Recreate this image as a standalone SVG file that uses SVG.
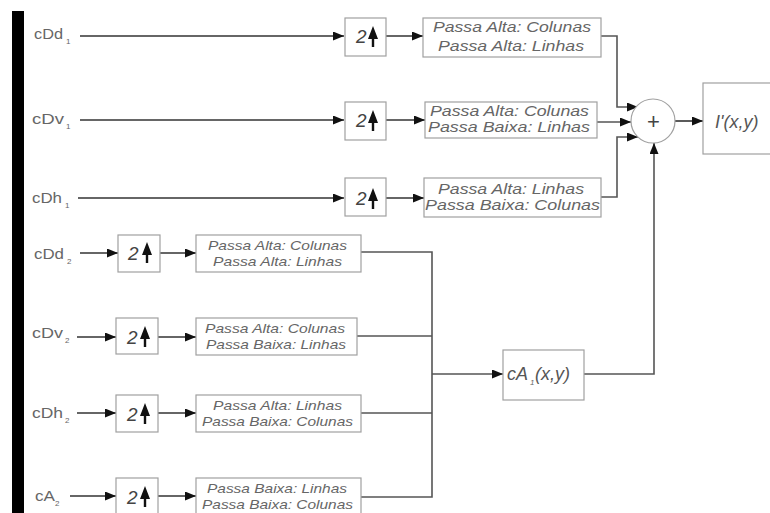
<svg xmlns="http://www.w3.org/2000/svg" xmlns:xlink="http://www.w3.org/1999/xlink" width="770" height="513" viewBox="0 0 770 513">
<style>
.box{fill:#fff;stroke:#a0a0a0;stroke-width:1.2}
.ln{fill:none;stroke:#333;stroke-width:1.6}
.ln2{fill:none;stroke:#555;stroke-width:1.6}
.lbl{font-family:"Liberation Sans",Arial,sans-serif;font-size:14px;fill:#666}
.sub{font-family:"Liberation Sans",Arial,sans-serif;font-size:8px;fill:#666}
.flt{font-family:"Liberation Sans",Arial,sans-serif;font-style:italic;font-size:14px;fill:#666}
.flt2{font-family:"Liberation Sans",Arial,sans-serif;font-style:italic;font-size:13px;fill:#666}
.two{font-family:"Liberation Sans",Arial,sans-serif;font-style:italic;font-size:19px;fill:#444}
.big{font-family:"Liberation Sans",Arial,sans-serif;font-style:italic;font-size:18px;fill:#555}
</style>
<defs>
<marker id="ah" markerUnits="userSpaceOnUse" markerWidth="12" markerHeight="10" refX="11" refY="4.5" orient="auto">
<path d="M0,0 L11,4.5 L0,9 z" fill="#111"/>
</marker>
<path id="up" d="M0,-10 L5,3 L1.2,3 L1.2,11 L-1.2,11 L-1.2,3 L-5,3 z" fill="#111"/>
</defs>
<rect x="12" y="11" width="12" height="502" fill="#000"/>
<g id="connectors">
<line class="ln" x1="80" y1="36" x2="344" y2="36" marker-end="url(#ah)"/>
<line class="ln" x1="80" y1="120" x2="344" y2="120" marker-end="url(#ah)"/>
<line class="ln" x1="78" y1="198" x2="344" y2="198" marker-end="url(#ah)"/>
<line class="ln" x1="386" y1="36" x2="423" y2="36" marker-end="url(#ah)"/>
<line class="ln" x1="386" y1="120" x2="425" y2="120" marker-end="url(#ah)"/>
<line class="ln" x1="386" y1="198" x2="424" y2="198" marker-end="url(#ah)"/>
<polyline class="ln2" points="601,36 617,36 617,107 638,107" marker-end="url(#ah)"/>
<line class="ln2" x1="597" y1="122" x2="631" y2="122" marker-end="url(#ah)"/>
<polyline class="ln2" points="601,197 617,197 617,137 638,137" marker-end="url(#ah)"/>
<line class="ln" x1="675" y1="121" x2="703" y2="121" marker-end="url(#ah)"/>
<polyline class="ln2" points="584,374 654,374 654,143" marker-end="url(#ah)"/>
<line class="ln" x1="80" y1="253" x2="118" y2="253" marker-end="url(#ah)"/>
<line class="ln" x1="77" y1="337" x2="116" y2="337" marker-end="url(#ah)"/>
<line class="ln" x1="77" y1="413" x2="116" y2="413" marker-end="url(#ah)"/>
<line class="ln" x1="70" y1="496" x2="116" y2="496" marker-end="url(#ah)"/>
<line class="ln" x1="160" y1="253" x2="196" y2="253" marker-end="url(#ah)"/>
<line class="ln" x1="158" y1="337" x2="196" y2="337" marker-end="url(#ah)"/>
<line class="ln" x1="158" y1="413" x2="196" y2="413" marker-end="url(#ah)"/>
<line class="ln" x1="158" y1="496" x2="196" y2="496" marker-end="url(#ah)"/>
<polyline class="ln2" points="361,252 432,252 432,497 361,497"/>
<line class="ln2" x1="357" y1="336" x2="432" y2="336"/>
<line class="ln2" x1="361" y1="413" x2="432" y2="413"/>
<line class="ln2" x1="432" y1="374" x2="503" y2="374" marker-end="url(#ah)"/>
</g>
<g id="lbl-cDd1"><text class="lbl" x="34" y="39" textLength="29" lengthAdjust="spacingAndGlyphs">cDd</text><text class="sub" x="66" y="44">1</text></g>
<g id="lbl-cDv1"><text class="lbl" x="32" y="124" textLength="32" lengthAdjust="spacingAndGlyphs">cDv</text><text class="sub" x="66" y="129">1</text></g>
<g id="lbl-cDh1"><text class="lbl" x="32" y="203" textLength="30" lengthAdjust="spacingAndGlyphs">cDh</text><text class="sub" x="65" y="208">1</text></g>
<g id="lbl-cDd2"><text class="lbl" x="34" y="259" textLength="30" lengthAdjust="spacingAndGlyphs">cDd</text><text class="sub" x="67" y="264">2</text></g>
<g id="lbl-cDv2"><text class="lbl" x="32" y="338" textLength="31" lengthAdjust="spacingAndGlyphs">cDv</text><text class="sub" x="65" y="343">2</text></g>
<g id="lbl-cDh2"><text class="lbl" x="32" y="418" textLength="31" lengthAdjust="spacingAndGlyphs">cDh</text><text class="sub" x="65" y="423">2</text></g>
<g id="lbl-cA2"><text class="lbl" x="35" y="501" textLength="20" lengthAdjust="spacingAndGlyphs">cA</text><text class="sub" x="55" y="506">2</text></g>
<g id="up1"><rect class="box" x="345" y="18" width="41" height="38"/><text class="two" x="356" y="43">2</text><use xlink:href="#up" x="373" y="36"/></g>
<g id="up2"><rect class="box" x="345" y="102" width="41" height="38"/><text class="two" x="356" y="127">2</text><use xlink:href="#up" x="373" y="120"/></g>
<g id="up3"><rect class="box" x="345" y="178" width="41" height="38"/><text class="two" x="356" y="205">2</text><use xlink:href="#up" x="373" y="198"/></g>
<g id="up4"><rect class="box" x="118" y="235" width="42" height="37"/><text class="two" x="128" y="260">2</text><use xlink:href="#up" x="147" y="252"/></g>
<g id="up5"><rect class="box" x="116" y="318" width="42" height="36"/><text class="two" x="127" y="344">2</text><use xlink:href="#up" x="145" y="336"/></g>
<g id="up6"><rect class="box" x="116" y="395" width="42" height="37"/><text class="two" x="127" y="421">2</text><use xlink:href="#up" x="145" y="413"/></g>
<g id="up7"><rect class="box" x="116" y="478" width="42" height="40"/><text class="two" x="127" y="504">2</text><use xlink:href="#up" x="145" y="496"/></g>
<g id="f1"><rect class="box" x="423" y="18" width="178" height="39"/>
<text class="flt" x="433" y="32" textLength="158" lengthAdjust="spacingAndGlyphs">Passa Alta: Colunas</text>
<text class="flt" x="438" y="51" textLength="146" lengthAdjust="spacingAndGlyphs">Passa Alta: Linhas</text></g>
<g id="f2"><rect class="box" x="425" y="102" width="172" height="36"/>
<text class="flt" x="430" y="116" textLength="159" lengthAdjust="spacingAndGlyphs">Passa Alta: Colunas</text>
<text class="flt" x="428" y="132" textLength="162" lengthAdjust="spacingAndGlyphs">Passa Baixa: Linhas</text></g>
<g id="f3"><rect class="box" x="424" y="178" width="177" height="39"/>
<text class="flt" x="438" y="194" textLength="146" lengthAdjust="spacingAndGlyphs">Passa Alta: Linhas</text>
<text class="flt" x="425" y="210" textLength="175" lengthAdjust="spacingAndGlyphs">Passa Baixa: Colunas</text></g>
<g id="f4"><rect class="box" x="196" y="235" width="165" height="37"/>
<text class="flt2" x="208" y="250" textLength="139" lengthAdjust="spacingAndGlyphs">Passa Alta: Colunas</text>
<text class="flt2" x="213" y="266" textLength="129" lengthAdjust="spacingAndGlyphs">Passa Alta: Linhas</text></g>
<g id="f5"><rect class="box" x="196" y="318" width="161" height="37"/>
<text class="flt2" x="205" y="333" textLength="140" lengthAdjust="spacingAndGlyphs">Passa Alta: Colunas</text>
<text class="flt2" x="206" y="349" textLength="140" lengthAdjust="spacingAndGlyphs">Passa Baixa: Linhas</text></g>
<g id="f6"><rect class="box" x="196" y="395" width="165" height="37"/>
<text class="flt2" x="213" y="410" textLength="129" lengthAdjust="spacingAndGlyphs">Passa Alta: Linhas</text>
<text class="flt2" x="202" y="426" textLength="151" lengthAdjust="spacingAndGlyphs">Passa Baixa: Colunas</text></g>
<g id="f7"><rect class="box" x="196" y="478" width="165" height="40"/>
<text class="flt2" x="207" y="493" textLength="140" lengthAdjust="spacingAndGlyphs">Passa Baixa: Linhas</text>
<text class="flt2" x="202" y="509" textLength="151" lengthAdjust="spacingAndGlyphs">Passa Baixa: Colunas</text></g>
<g id="sum"><circle cx="653" cy="121" r="22" fill="#fff" stroke="#a0a0a0" stroke-width="1.2"/>
<text x="653.5" y="129" text-anchor="middle" font-family="Liberation Sans, Arial, sans-serif" font-size="22" fill="#444">+</text></g>
<g id="out"><rect class="box" x="703" y="83" width="80" height="71"/>
<text class="big" x="715" y="128">I'(x,y)</text></g>
<g id="cA1"><rect class="box" x="503" y="350" width="81" height="50"/>
<text class="big" x="507" y="380">cA</text><text class="sub" x="530" y="385" font-style="italic">1</text><text class="big" x="535" y="380">(x,y)</text></g>
</svg>
